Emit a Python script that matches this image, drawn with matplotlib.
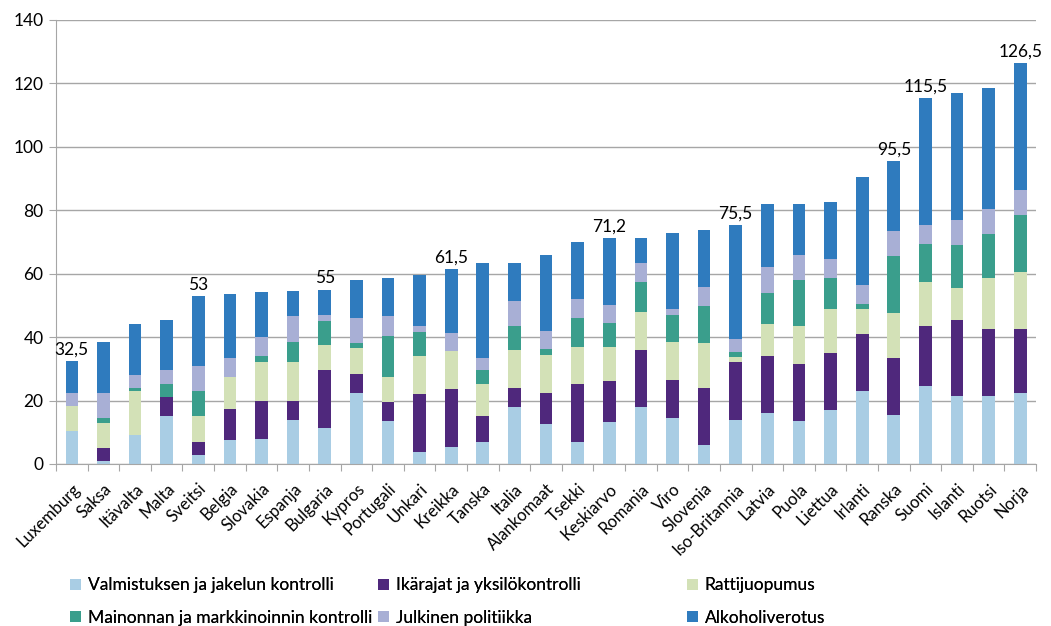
"""Stacked bar chart: alcohol policy scores by country."""

import matplotlib

matplotlib.use("Agg")
import matplotlib.pyplot as plt
import numpy as np
from matplotlib.patches import Patch

# --------------------------------------------------
# data
# --------------------------------------------------
countries = [
    "Luxemburg", "Saksa", "Itävalta", "Malta", "Sveitsi", "Belgia", "Slovakia",
    "Espanja", "Bulgaria", "Kypros", "Portugali", "Unkari", "Kreikka", "Tanska",
    "Italia", "Alankomaat", "Tsekki", "Keskiarvo", "Romania", "Viro", "Slovenia",
    "Iso-Britannia", "Latvia", "Puola", "Liettua", "Irlanti", "Ranska", "Suomi",
    "Islanti", "Ruotsi", "Norja",
]

valmistus = [10.4, 1, 9.1, 15, 2.8, 7.5, 8, 14, 11.5, 22.5, 13.5, 3.9, 5.5, 7, 18, 12.5,
             7, 13.2, 18, 14.5, 6, 14, 16, 13.5, 17, 23, 15.5, 24.5, 21.5, 21.5, 22.5]
ikarajat = [0, 3.9, 0, 6, 4.2, 9.8, 12, 6, 18, 6, 6, 18.1, 18, 8, 6.1, 10,
            18.1, 13, 17.9, 12, 18.1, 18.1, 18, 18, 18, 18, 18, 19, 24, 21, 20]
rattijuopumus = [8, 8.1, 13.9, 0, 8, 10.1, 12.1, 12.1, 8, 8, 8, 12, 12, 10.1, 11.8, 12,
                 11.9, 10.8, 11.9, 12, 13.9, 1.7, 10, 12, 14, 8, 14, 14, 10, 16, 18]
mainonta = [0, 1.6, 1.1, 4.3, 8, 0, 1.8, 6.5, 7.6, 1.7, 13, 7.5, 0, 4.4, 7.6, 1.6,
            9, 7.3, 9.6, 8.6, 11.9, 1.6, 10, 14.5, 9.5, 1.6, 18, 12, 13.5, 14, 18]
julkinen = [4.1, 7.9, 3.9, 4.3, 8, 5.9, 6.1, 8, 2, 7.8, 6.2, 2.1, 5.9, 3.8, 7.9, 5.8,
            6, 5.9, 5.9, 1.8, 5.9, 4.1, 8, 8, 6, 5.8, 8, 6, 8, 8, 8]
alkoholivero = [10, 16.1, 16, 15.9, 22, 20.2, 14.1, 8, 7.9, 11.9, 11.8, 16, 20.1, 30.1, 12, 24,
                18, 21, 8.1, 23.9, 18.1, 36, 20, 16, 18, 34, 22, 40, 40, 38, 40]

# data labels shown above some bars
total_labels = ["32,5", "", "", "", "53", "", "", "", "55", "", "", "", "61,5", "", "",
                "", "", "71,2", "", "", "", "75,5", "", "", "", "", "95,5", "115,5",
                "", "", "126,5"]

series_names = [
    "Valmistuksen ja jakelun kontrolli",
    "Ikärajat ja yksilökontrolli",
    "Rattijuopumus",
    "Mainonnan ja markkinoinnin kontrolli",
    "Julkinen politiikka",
    "Alkoholiverotus",
]
series_colors = ["#A9CDE4", "#4F287C", "#D3E1B7", "#3A9E8C", "#A8AFD5", "#2F7BBE"]
series_values = [valmistus, ikarajat, rattijuopumus, mainonta, julkinen, alkoholivero]

# --------------------------------------------------
# figure
# --------------------------------------------------
plt.rcParams["font.family"] = ["Lato", "DejaVu Sans"]

fig = plt.figure(figsize=(10.51, 6.26), dpi=100)
ax = fig.add_axes([0.0533, 0.2588, 0.9325, 0.7093])

x = np.arange(len(countries))
bottom = np.zeros(len(countries))
for vals, color in zip(series_values, series_colors):
    vals = np.array(vals)
    ax.bar(x, vals, width=0.4, bottom=bottom, color=color, linewidth=0)
    bottom += vals

# totals above selected bars
for xi, total, lab in zip(x, bottom, total_labels):
    if lab:
        ax.text(xi, total + 1.0, lab, ha="center", va="bottom", fontsize=12.5)

# axes formatting (excel-like)
grid_color = "#A6A6A6"
ax.set_xlim(-0.5, len(countries) - 0.5)
ax.set_ylim(0, 140)
ax.set_yticks(np.arange(0, 141, 20))
ax.yaxis.grid(True, color=grid_color, linewidth=1.0)
ax.set_axisbelow(True)
for side in ("top", "right"):
    ax.spines[side].set_visible(False)
for side in ("left", "bottom"):
    ax.spines[side].set_color(grid_color)
ax.tick_params(axis="y", length=5, color=grid_color, labelsize=12.5, pad=4)

# category ticks at boundaries, labels at centres
ax.set_xticks(np.arange(-0.5, len(countries), 1.0))
ax.set_xticklabels([])
ax.tick_params(axis="x", which="major", length=5, color=grid_color)
ax.set_xticks(x, minor=True)
ax.set_xticklabels(countries, minor=True, rotation=45, ha="right",
                   rotation_mode="anchor", fontsize=12)
ax.tick_params(axis="x", which="minor", length=0, pad=12)

# legend: three columns of equal width, row-major order
col_x = [0.067, 0.360, 0.654]
for ci, left in enumerate(col_x):
    idx = [ci, ci + 3]
    handles = [Patch(facecolor=series_colors[i], edgecolor="none") for i in idx]
    leg = fig.legend(handles, [series_names[i] for i in idx], loc="upper left",
                     bbox_to_anchor=(left, 0.078), bbox_transform=fig.transFigure,
                     ncol=1, frameon=False, fontsize=12.5, handlelength=0.6,
                     handleheight=0.6, handletextpad=0.4, labelspacing=0.95,
                     borderpad=0, borderaxespad=0)
    fig.add_artist(leg)

fig.savefig("out.png", dpi=100)
